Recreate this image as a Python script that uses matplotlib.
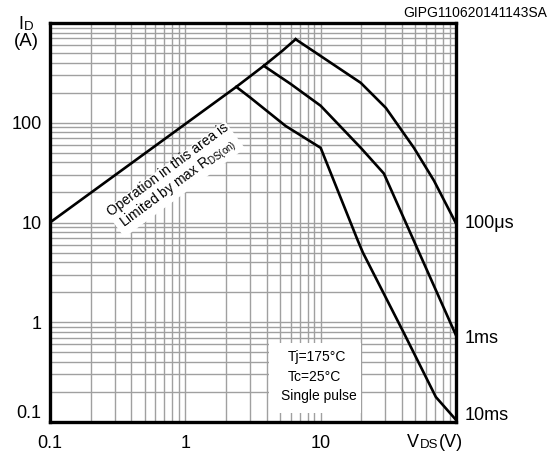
import matplotlib
matplotlib.use("Agg")
import matplotlib.pyplot as plt
from matplotlib.patches import Rectangle
from matplotlib.ticker import LogLocator, NullFormatter

plt.rcParams['font.family'] = ['Liberation Sans', 'DejaVu Sans']
plt.rcParams['mathtext.fontset'] = 'custom'
plt.rcParams['mathtext.rm'] = 'Liberation Sans'
plt.rcParams['mathtext.it'] = 'Liberation Sans'

# RDS(on) limit line (envelope)
rds_v = [0.1, 2.38, 3.80, 5.20, 6.53]
rds_i = [10, 229, 372, 525, 687]

# 100us curve
v_100us = [6.53, 19.8, 30.3, 48.9, 68.7, 100]
i_100us = [687, 251, 141, 56, 26.3, 9.8]

# 1ms curve
v_1ms = [3.80, 6.0, 10, 19.8, 29.3, 100]
i_1ms = [372, 245, 148, 56, 31, 0.74]

# 10ms curve
v_10ms = [2.38, 3.03, 5.5, 10, 18.8, 20.5, 41.2, 71, 100]
i_10ms = [229, 178, 93, 56, 6.6, 5.0, 0.78, 0.178, 0.105]

curve_labels = ['100μs', '1ms', '10ms']
label_y = [9.8, 0.69, 0.117]

x_ticks = [0.1, 1, 10]
x_ticklabels = ['0.1', '1', '10']
y_ticks = [0.1, 1, 10, 100]
y_ticklabels = ['0.1', '1', '10', '100']

fig = plt.figure(figsize=(5.53, 4.55), dpi=100)
ax = fig.add_axes([50 / 553, 33 / 455, 406 / 553, 399 / 455])
ax.set_xscale('log')
ax.set_yscale('log')
ax.set_xlim(0.1, 100)
ax.set_ylim(0.1, 1000)

ax.xaxis.set_minor_locator(LogLocator(base=10, subs=range(2, 10)))
ax.yaxis.set_minor_locator(LogLocator(base=10, subs=range(2, 10)))
ax.xaxis.set_minor_formatter(NullFormatter())
ax.yaxis.set_minor_formatter(NullFormatter())
ax.grid(which='both', color='#a0a0a0', linewidth=1.0)
ax.set_axisbelow(True)

ax.set_xticks(x_ticks)
ax.set_xticklabels(x_ticklabels)
ax.set_yticks(y_ticks)
ax.set_yticklabels(y_ticklabels)
ax.tick_params(which='both', length=0, labelsize=13)
ax.tick_params(axis='x', pad=9)
ax.tick_params(axis='y', pad=6)
ax.get_yticklabels()[0].set_va('bottom')

for s in ax.spines.values():
    s.set_linewidth(2.4)

# curves
lw = 1.9
ax.plot(rds_v, rds_i, color='black', lw=lw, zorder=3)
ax.plot(v_100us, i_100us, color='black', lw=lw, zorder=3)
ax.plot(v_1ms, i_1ms, color='black', lw=lw, zorder=3)
ax.plot(v_10ms, i_10ms, color='black', lw=lw, zorder=3)

# condition box
ax.add_patch(Rectangle((4.12, 0.123), 19.8 - 4.12, 0.617 - 0.123,
                       facecolor='white', edgecolor='none', zorder=2))
ax.text(9.35, 0.447, 'Tj=175°C', fontsize=10, ha='center', va='center', zorder=4)
ax.text(9.0, 0.282, 'Tc=25°C', fontsize=10, ha='center', va='center', zorder=4)
ax.text(9.7, 0.182, 'Single pulse', fontsize=10, ha='center', va='center', zorder=4)

# RDS(on) annotation
ax.text(0.82, 28, 'Operation in this area is\nLimited by max R$_{\\mathrm{DS(on)}}$',
        fontsize=10, rotation=36.5, rotation_mode='anchor',
        ha='center', va='center', multialignment='center', zorder=4,
        linespacing=1.1,
        bbox=dict(facecolor='white', edgecolor='none', pad=1))

# curve labels on the right
for lab, y in zip(curve_labels, label_y):
    ax.annotate(lab, xy=(100, y), xytext=(6, 0), textcoords='offset points',
                fontsize=13, ha='left', va='center', annotation_clip=False)

# axis titles
ti = fig.text(18 / 553, 1 - 29 / 455, 'I', fontsize=13, ha='left', va='baseline')
ax.annotate('D', xy=(1, 0), xycoords=ti, xytext=(0.5, 0), textcoords='offset points',
            fontsize=9.5, ha='left', va='bottom', annotation_clip=False)
fig.text(26 / 553, 1 - 41 / 455, '(A)', fontsize=13.5, ha='center', va='center')

tv = fig.text(407 / 553, 1 - 447 / 455, 'V', fontsize=13, ha='left', va='baseline')
td = ax.annotate('DS', xy=(1, 0), xycoords=tv, xytext=(0.5, 0), textcoords='offset points',
                 fontsize=9.5, ha='left', va='bottom', annotation_clip=False)
ax.annotate('(V)', xy=(1, 0), xycoords=td, xytext=(0.5, 0), textcoords='offset points',
            fontsize=13, ha='left', va='bottom', annotation_clip=False)

fig.text(547 / 553, 1 - 13 / 455, 'GIPG110620141143SA', fontsize=10, ha='right', va='center')

fig.savefig('out.png', dpi=100)
